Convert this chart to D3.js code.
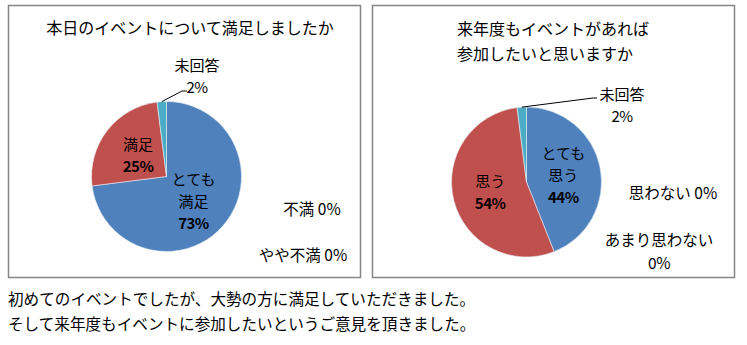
<!DOCTYPE html>
<html>
<head>
<meta charset="utf-8">
<script src="https://cdn.jsdelivr.net/npm/d3@7"></script>
<style>
  html, body { margin: 0; padding: 0; background: #fff; }
  svg { display: block; }
  text { font-family: "Noto Sans CJK JP", "Noto Sans", sans-serif; fill: #000; }
</style>
</head>
<body>
<svg id="chart" width="747" height="345"></svg>
<script>
// Survey 1: satisfaction with today's event
const satCategories = ["とても満足", "満足", "やや不満", "不満", "未回答"];
const satValues = [73, 25, 0, 0, 2];
const satTitle = ["本日のイベントについて満足しましたか"];

// Survey 2: intention to join next year's event
const joinCategories = ["とても思う", "思う", "あまり思わない", "思わない", "未回答"];
const joinValues = [44, 54, 0, 0, 2];
const joinTitle = ["来年度もイベントがあれば", "参加したいと思いますか"];

// Comment lines under the charts
const commentLines = [
  "初めてのイベントでしたが、大勢の方に満足していただきました。",
  "そして来年度もイベントに参加したいというご意見を頂きました。"
];

const sliceColors = ["#4F81BD", "#C0504D", "#9BBB59", "#8064A2", "#4BACC6"];

const svg = d3.select("#chart");

// Frame of each chart
function frame(x, y, w, h) {
  svg.append("rect")
    .attr("x", x + 0.5).attr("y", y + 0.5)
    .attr("width", w).attr("height", h)
    .attr("fill", "#fff")
    .attr("stroke", "#868686")
    .attr("stroke-width", 1.5);
}

// Stack of single-line texts centred on (x, y)
function textBlock(g, lines, x, y, size, anchor, lineH, numWeight) {
  const lh = lineH || size * 1.4;
  const y0 = -(lines.length - 1) * lh / 2;
  lines.forEach((s, i) => {
    const isNum = /^\d+%$/.test(s);
    g.append("text")
      .attr("x", x)
      .attr("y", y + y0 + i * lh)
      .attr("text-anchor", anchor || "middle")
      .attr("dominant-baseline", "central")
      .attr("font-size", size)
      .attr("font-weight", isNum && numWeight ? numWeight : null)
      .attr("letter-spacing", isNum ? -0.5 : null)
      .text(s);
  });
}

function pieChart(opts) {
  const { categories, values, cx, cy, r, insideLines, zeroLabels, callout } = opts;
  const g = svg.append("g");
  const color = d3.scaleOrdinal().domain(categories).range(sliceColors);
  const pie = d3.pie().sort(null).value(d => d.v);
  const data = categories.map((c, i) => ({ c, v: values[i] }));
  const arcs = pie(data);
  const arc = d3.arc().innerRadius(0).outerRadius(r);
  const pg = g.append("g").attr("transform", `translate(${cx},${cy})`);

  pg.selectAll("path")
    .data(arcs.filter(a => a.data.v > 0))
    .join("path")
    .attr("d", arc)
    .attr("fill", d => color(d.data.c))
    .attr("stroke", "#e8eef6")
    .attr("stroke-width", 0.6);

  // Labels inside the large slices
  const labelArc = d3.arc().innerRadius(r * opts.labelR).outerRadius(r * opts.labelR);
  arcs.forEach(a => {
    const lines = insideLines[a.data.c];
    if (!lines) return;
    const [lx, ly] = labelArc.centroid(a);
    textBlock(pg, lines.concat([a.data.v + "%"]), lx, ly, 15, "middle", 22, 600);
  });

  // Small slice with a leader line
  const small = arcs.find(a => a.data.c === callout.cat);
  const mid = (small.startAngle + small.endAngle) / 2;
  const px = Math.sin(mid) * r, py = -Math.cos(mid) * r;
  pg.append("path")
    .attr("d", d3.line()([[px, py], [callout.elbow[0] - cx, callout.elbow[1] - cy], [callout.end[0] - cx, callout.end[1] - cy]]))
    .attr("fill", "none")
    .attr("stroke", "#000")
    .attr("stroke-width", 1);
  textBlock(g, [callout.cat, small.data.v + "%"], callout.text[0], callout.text[1], 15, "middle", 22);

  // Zero-value slices are listed beside the pie
  zeroLabels.forEach(z => {
    const i = categories.indexOf(z.cat);
    const lines = z.split ? [z.cat, values[i] + "%"] : [z.cat + " " + values[i] + "%"];
    textBlock(g, lines, z.x, z.y, 15.5, "middle", 23);
  });
}

// Left chart
frame(8, 5, 352, 272);
textBlock(svg, satTitle, 190, 27, 16);
pieChart({
  categories: satCategories, values: satValues,
  cx: 166.5, cy: 176.5, r: 75, labelR: 0.48,
  insideLines: { "とても満足": ["とても", "満足"], "満足": ["満足"] },
  zeroLabels: [
    { cat: "不満", x: 312, y: 208 },
    { cat: "やや不満", x: 303, y: 254 }
  ],
  callout: { cat: "未回答", elbow: [182, 91], end: [187, 91], text: [197, 75] }
});

// Right chart
frame(372, 5, 362, 272);
textBlock(svg, joinTitle, 457, 40, 16, "start", 25);
pieChart({
  categories: joinCategories, values: joinValues,
  cx: 526.5, cy: 182, r: 75, labelR: 0.5,
  insideLines: { "とても思う": ["とても", "思う"], "思う": ["思う"] },
  zeroLabels: [
    { cat: "思わない", x: 673, y: 192 },
    { cat: "あまり思わない", x: 659, y: 250, split: true }
  ],
  callout: { cat: "未回答", elbow: [593, 98], end: [597, 98], text: [622, 104] }
});

// Comment text
commentLines.forEach((s, i) => {
  svg.append("text")
    .attr("x", 8).attr("y", 298 + i * 25)
    .attr("dominant-baseline", "central")
    .attr("font-size", 15.6)
    .text(s);
});
</script>
</body>
</html>
